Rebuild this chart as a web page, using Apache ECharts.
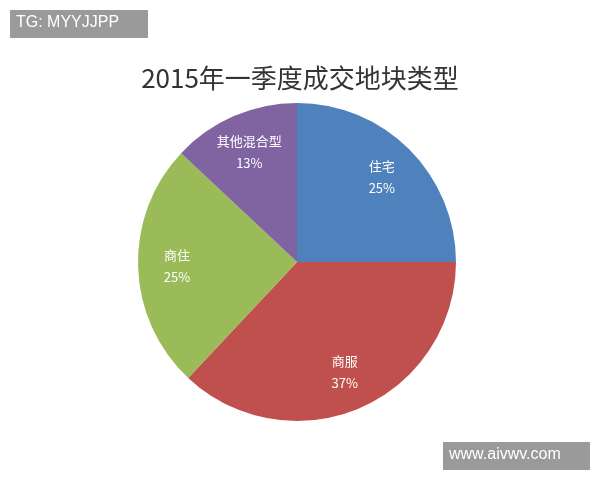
<!DOCTYPE html>
<html><head><meta charset="utf-8">
<script src="https://cdn.jsdelivr.net/npm/echarts@6/dist/echarts.min.js"></script>
<style>html,body{margin:0;padding:0;background:#fff}#c{width:600px;height:480px}</style>
</head><body><div id="c"></div>
<script>
const categories = ['住宅','商服','商住','其他混合型'];
const values = [25,37,25,13];
const colors = ['#4F81BD','#C0504D','#9BBB59','#8064A2'];
const data = categories.map((n,i)=>({name:n,value:values[i],itemStyle:{color:colors[i]}}));
const chart = echarts.init(document.getElementById('c'));
chart.setOption({
  animation:false,
  title:{text:'2015年一季度成交地块类型',left:'center',top:60,textStyle:{fontFamily:'Noto Sans CJK SC',fontSize:26,fontWeight:'normal',color:'#333'}},
  graphic:[
    {type:'group',left:10,top:10,children:[
      {type:'rect',shape:{width:138,height:28},style:{fill:'#9a9a9a'}},
      {type:'text',left:6,top:5,style:{text:'TG: MYYJJPP',fill:'#fff',font:'16px Liberation Sans'}}]},
    {type:'group',left:443,top:442,children:[
      {type:'rect',shape:{width:147,height:28},style:{fill:'#9a9a9a'}},
      {type:'text',left:6,top:5,style:{text:'www.aivwv.com',fill:'#fff',font:'16px Liberation Sans'}}]}
  ],
  series:[
    {type:'pie',center:[297,262],radius:[0,159],startAngle:90,clockwise:true,data:data,label:{show:false},labelLine:{show:false},silent:true,
     itemStyle:{borderColor:'#fff',borderWidth:0}},
    {type:'pie',center:[297,262],radius:[75,159],startAngle:90,clockwise:true,data:data.map(d=>({name:d.name,value:d.value,itemStyle:{color:'rgba(0,0,0,0)'}})),
     label:{show:true,position:'inside',formatter:'{b}\n\n{d}%',color:'#fff',fontSize:13,fontFamily:'Noto Sans CJK SC',lineHeight:11},labelLine:{show:false},silent:true}
  ]
});
</script></body></html>
